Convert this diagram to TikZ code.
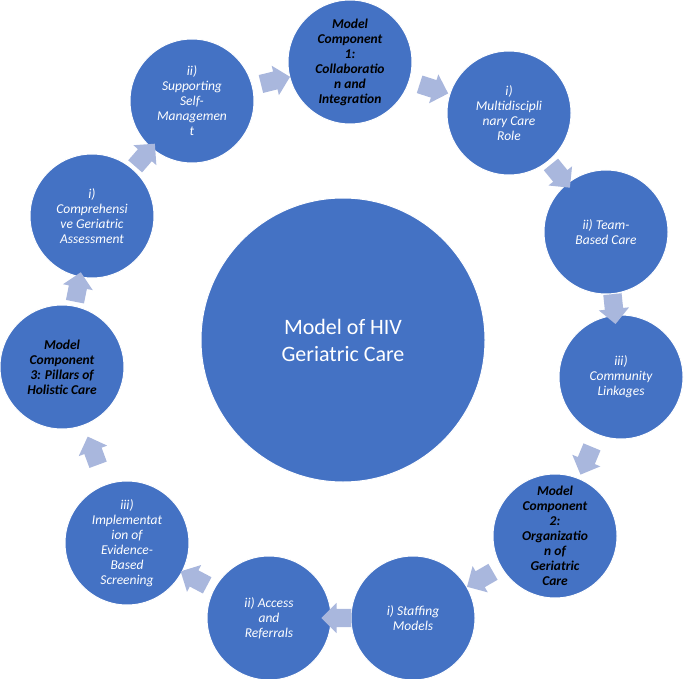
\documentclass[tikz,border=0pt]{standalone}
\usepackage{fontspec}
\setmainfont{Carlito}
\usetikzlibrary{shapes.arrows,calc}
\definecolor{cblue}{HTML}{4472C4}
\definecolor{arr}{HTML}{A9B7DD}
\tikzset{
 sc/.style={circle,fill=cblue,draw=white,line width=1pt,minimum size=124pt,inner sep=0pt,align=center,font=\fontsize{13.5}{15}\selectfont\itshape,text=white},
 mc/.style={sc,text=black,font=\fontsize{13.5}{15}\selectfont\bfseries\itshape},
 ar/.style={single arrow,fill=arr,draw=none,minimum height=30pt,inner xsep=0pt,inner ysep=9pt,single arrow head extend=6pt,single arrow tip angle=90}
}
\begin{document}
\begin{tikzpicture}[x=1pt,y=-1pt]
\useasboundingbox (0,0) rectangle (685,679);
\node[sc,minimum size=284pt,font=\fontsize{22}{27}\selectfont] (c) at (343,340) {Model of HIV\\Geriatric Care};
\node[mc] (n1) at (350,62) {Model\\Component\\1:\\Collaboratio\\n and\\Integration};
\node[sc] (n2) at (509,113) {i)\\Multidiscipli\\nary Care\\Role};
\node[sc] (n3) at (606,232) {ii) Team-\\Based Care};
\node[sc] (n4) at (621,377) {iii)\\Community\\Linkages};
\node[mc] (n5) at (555,536) {Model\\Component\\2:\\Organizatio\\n of\\Geriatric\\Care};
\node[sc] (n6) at (413,618) {i) Staffing\\Models};
\node[sc] (n7) at (269,618) {ii) Access\\and\\Referrals};
\node[sc] (n8) at (127,543) {iii)\\Implementat\\ion of\\Evidence-\\Based\\Screening};
\node[mc] (n9) at (62,367) {Model\\Component\\3: Pillars of\\Holistic Care};
\node[sc] (n10) at (92,216) {i)\\Comprehensi\\ve Geriatric\\Assessment};
\node[sc] (n11) at (192,101) {ii)\\Supporting\\Self-\\Managemen\\t};
\foreach \a/\b in {n1/n2,n2/n3,n3/n4,n4/n5,n5/n6,n6/n7,n7/n8,n8/n9,n9/n10,n10/n11,n11/n1}{
 \path let \p1=($(\b)-(\a)$) in node[ar,rotate={atan2(\y1,\x1)}] at ($(\a)!0.5!(\b)$) {};
}
\end{tikzpicture}
\end{document}
